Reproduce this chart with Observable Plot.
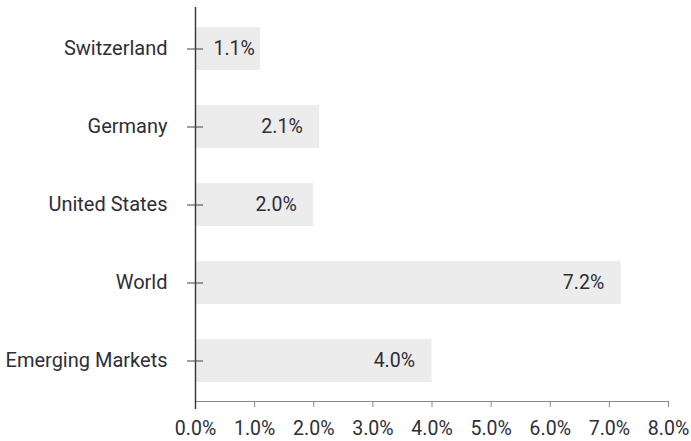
<!DOCTYPE html>
<html>
<head>
<meta charset="utf-8">
<script src="https://cdn.jsdelivr.net/npm/d3@7"></script>
<script src="https://cdn.jsdelivr.net/npm/@observablehq/plot@0.6"></script>
<style>
  html, body { margin: 0; padding: 0; background: #fff; }
  #chart svg { display: block; }
</style>
</head>
<body>
<div id="chart"></div>
<script>
const categories = ["Switzerland", "Germany", "United States", "World", "Emerging Markets"];
const values = [1.1, 2.1, 2.0, 7.2, 4.0];
const xTicks = [0, 1, 2, 3, 4, 5, 6, 7, 8];

const data = categories.map((c, i) => ({category: c, value: values[i]}));
const shortBar = 1.5;

const textColor = "#2e2e38";
const fontFamily = "Roboto, 'Noto Sans', sans-serif";

const chart = Plot.plot({
  width: 691,
  height: 441,
  marginTop: 7,
  marginBottom: 40,
  marginLeft: 195,
  marginRight: 23,
  style: {fontFamily, fontSize: "19px", color: textColor, background: "#fff"},
  x: {domain: [0, 8], label: null},
  y: {domain: categories, paddingInner: 0.45, paddingOuter: 0.225, label: null},
  marks: [
    Plot.barX(data, {y: "category", x: "value", fill: "#ececec"}),
    Plot.text(data.filter(d => d.value >= shortBar), {
      y: "category", x: "value", text: d => d.value.toFixed(1) + "%",
      textAnchor: "end", dx: -17, fill: textColor, fontSize: 19.5
    }),
    Plot.text(data.filter(d => d.value < shortBar), {
      y: "category", x: 0, text: d => d.value.toFixed(1) + "%",
      textAnchor: "start", dx: 18, fill: textColor, fontSize: 19.5
    }),
    Plot.frame({anchor: "bottom", stroke: "#888", strokeWidth: 1.2}),
    Plot.axisX({ticks: xTicks, tickSize: 6, tickPadding: 14, stroke: "#888",
      tickFormat: d => d.toFixed(1) + "%", fill: textColor, fontSize: 19.5, label: null}),
    Plot.ruleX([0], {stroke: "#333", strokeWidth: 1.4, insetBottom: -8}),
    Plot.axisY({tickSize: 16, dx: 8, stroke: "#444", tickFormat: () => "", label: null}),
    Plot.axisY({tickSize: 0, tickPadding: 28, fill: textColor, fontSize: 20, label: null})
  ]
});
document.getElementById("chart").appendChild(chart);
</script>
</body>
</html>
